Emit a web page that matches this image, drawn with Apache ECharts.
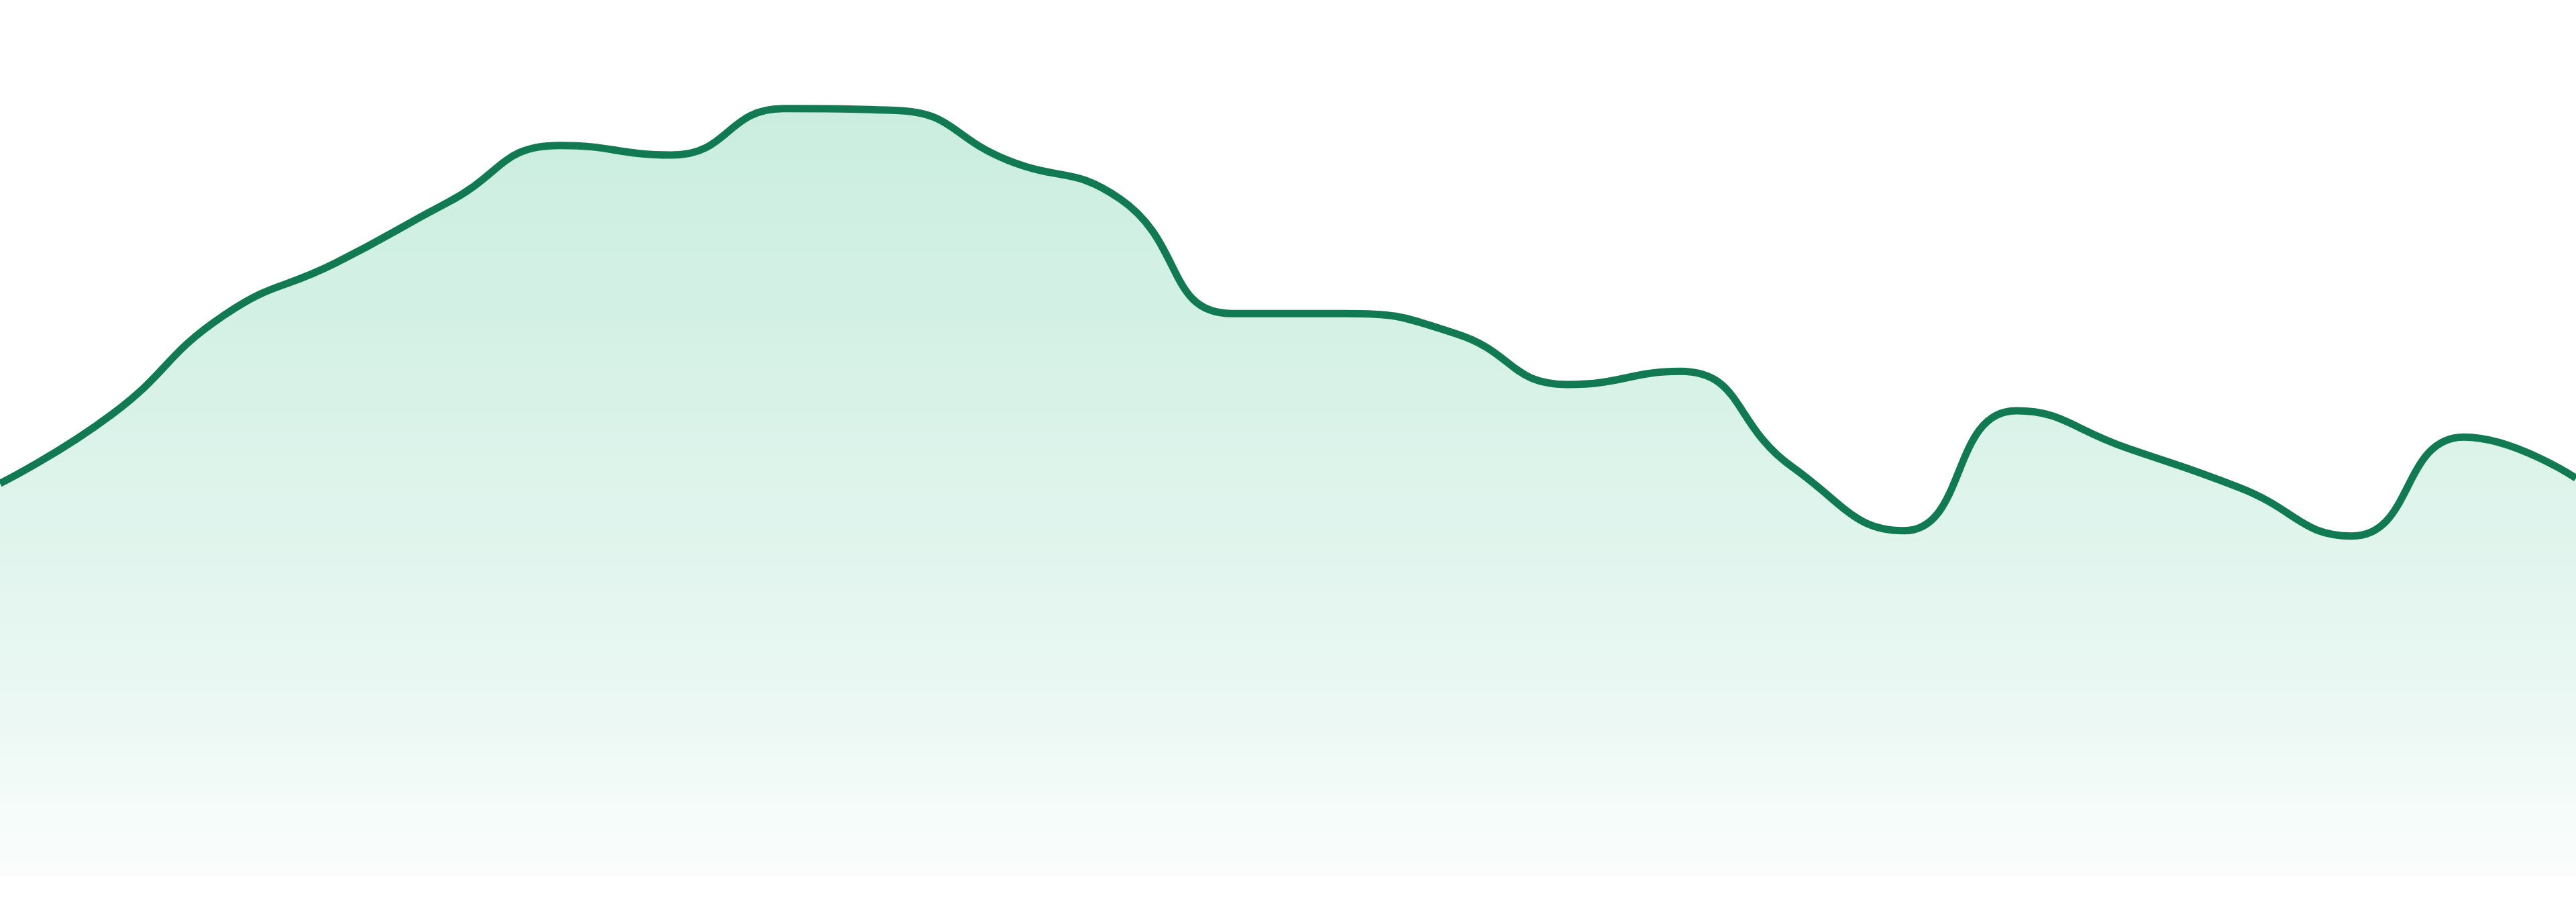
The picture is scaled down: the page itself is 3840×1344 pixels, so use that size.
<!DOCTYPE html>
<html>
<head>
    <meta charset="utf-8">
    <title>area trend</title>
    <script type="text/javascript" src="https://cdn.jsdelivr.net/npm/echarts@6/dist/echarts.min.js"></script>
    <style>
        html, body { margin:0; padding:0; background:#fff; }
        #trend-graph { width:3840px; height:1344px; }
    </style>
</head>
<body>
<div id="trend-graph"></div>
</body>
<script type="text/javascript">
    // x categories, one per point
    var categories = ['1','2','3','4','5','6','7','8','9','10','11','12',
                      '13','14','15','16','17','18','19','20','21','22','23','24'];
    // values (0-100 scale)
    var values = [44.8, 52.7, 64.0, 70.0, 76.9, 83.4, 82.3, 87.6, 87.4, 81.7, 77.3, 64.2,
                  64.2, 61.9, 56.1, 57.6, 46.7, 39.4, 53.1, 48.8, 44.3, 38.8, 50.1, 45.4];
    var yMin = 0;
    var yMax = 100;

    var myChart = echarts.init(document.getElementById('trend-graph'));
    myChart.setOption({
        animation: false,
        grid: {left:0, right:0, top:0, bottom:39},
        xAxis: {
            type: 'category',
            data: categories,
            boundaryGap: false,
            show: false
        },
        yAxis: {
            type: 'value',
            min: yMin,
            max: yMax,
            show: false
        },
        series: [{
            type: 'line',
            data: values,
            smooth: true,
            showSymbol: false,
            lineStyle: {color:'#127a52', width:11},
            itemStyle: {color:'#127a52'},
            areaStyle: {
                // light mint at the top fading to almost white at the base
                color: new echarts.graphic.LinearGradient(0, 0, 0, 1, [
                    {offset:0, color:'#b2e5d1'},
                    {offset:0.39, color:'#c8ecde'},
                    {offset:0.74, color:'#def3eb'},
                    {offset:1, color:'#f8fcfa'}
                ])
            }
        }]
    });
</script>
</html>
